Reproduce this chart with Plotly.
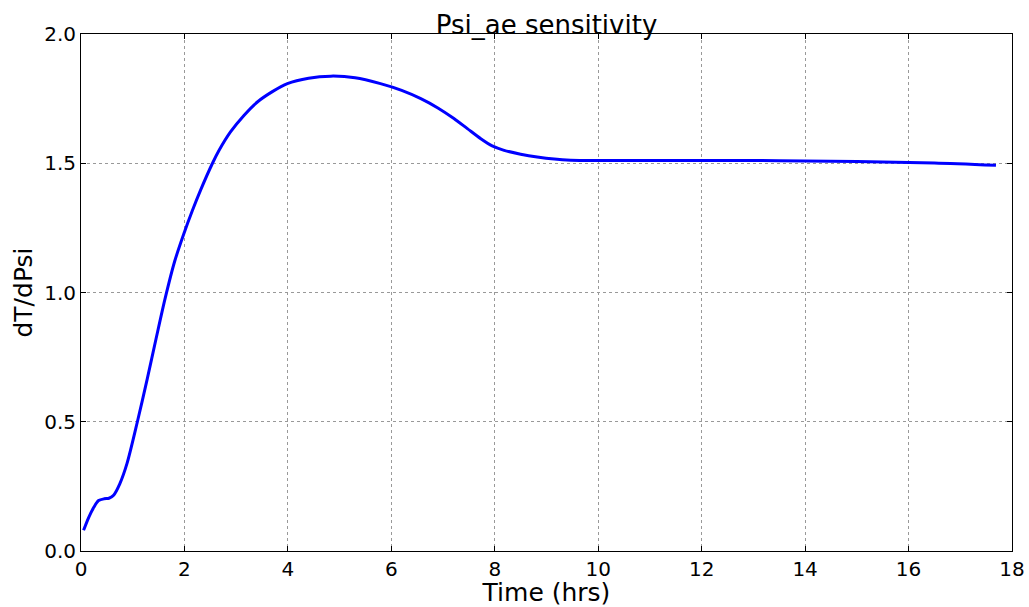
import plotly.graph_objects as go

# time (hrs) and sensitivity
time_hrs = [0.05, 0.15, 0.25, 0.34, 0.45, 0.54, 0.63, 0.75, 0.89, 1.09, 1.28, 1.45, 1.63,
            1.81, 1.99, 2.15, 2.31, 2.54, 2.67, 2.89, 3.15, 3.41, 3.7, 3.99, 4.4, 4.83, 5.3,
            5.79, 6.2, 6.57, 6.9, 7.21, 7.47, 7.73, 7.95, 8.18, 8.5, 8.82, 9.15, 9.47, 10.44,
            11.5, 12.5, 13.5, 14.5, 15.5, 16.5, 17.69]
dT_dPsi = [0.08, 0.13, 0.17, 0.195, 0.202, 0.204, 0.216, 0.26, 0.339, 0.50, 0.665, 0.82,
           0.98, 1.12, 1.228, 1.315, 1.395, 1.499, 1.55, 1.621, 1.685, 1.737, 1.777, 1.808,
           1.829, 1.837, 1.831, 1.808, 1.782, 1.75, 1.714, 1.673, 1.634, 1.595, 1.567, 1.55,
           1.535, 1.524, 1.516, 1.512, 1.511, 1.511, 1.511, 1.510, 1.508, 1.505, 1.501, 1.492]

x_ticks = [0, 2, 4, 6, 8, 10, 12, 14, 16, 18]
y_ticks = [0.0, 0.5, 1.0, 1.5, 2.0]

fig = go.Figure()
fig.add_trace(go.Scatter(x=time_hrs, y=dT_dPsi, mode="lines",
                         line=dict(color="#0000ff", width=3, shape="spline", smoothing=0.8)))

axis_common = dict(showline=True, linecolor="black", linewidth=1, mirror="ticks",
                   ticks="inside", ticklen=5, tickcolor="black", automargin=False,
                   ticklabeloverflow="allow",
                   showgrid=True, gridcolor="#999999", griddash="dot", gridwidth=1,
                   zeroline=False, tickfont=dict(size=20, color="black"))

fig.update_xaxes(range=[0, 18], tickvals=x_ticks, ticktext=[str(t) for t in x_ticks],
                 title=dict(text="Time (hrs)", font=dict(size=25, color="black"), standoff=0),
                 **axis_common)
fig.update_yaxes(range=[0, 2], tickvals=y_ticks, ticktext=[f"{t:.1f}" for t in y_ticks],
                 title=dict(text="dT/dPsi", font=dict(size=25, color="black"), standoff=4),
                 **axis_common)

fig.update_layout(
    template="none",
    width=1029, height=607,
    margin=dict(l=81, r=17, t=34, b=56, autoexpand=False),
    paper_bgcolor="white", plot_bgcolor="white",
    font=dict(family="DejaVu Sans", color="black"),
    showlegend=False,
    title=dict(text="Psi_ae sensitivity", font=dict(size=26, color="black"),
               x=0.5, xref="paper", xanchor="center",
               y=1, yref="paper", yanchor="bottom", pad=dict(b=0)),
)

# drop the default page margin so the figure fills the window exactly
fig.write_html("out.html", config={"displayModeBar": False},
               post_script="document.body.style.margin='0';document.body.style.overflow='hidden';")
